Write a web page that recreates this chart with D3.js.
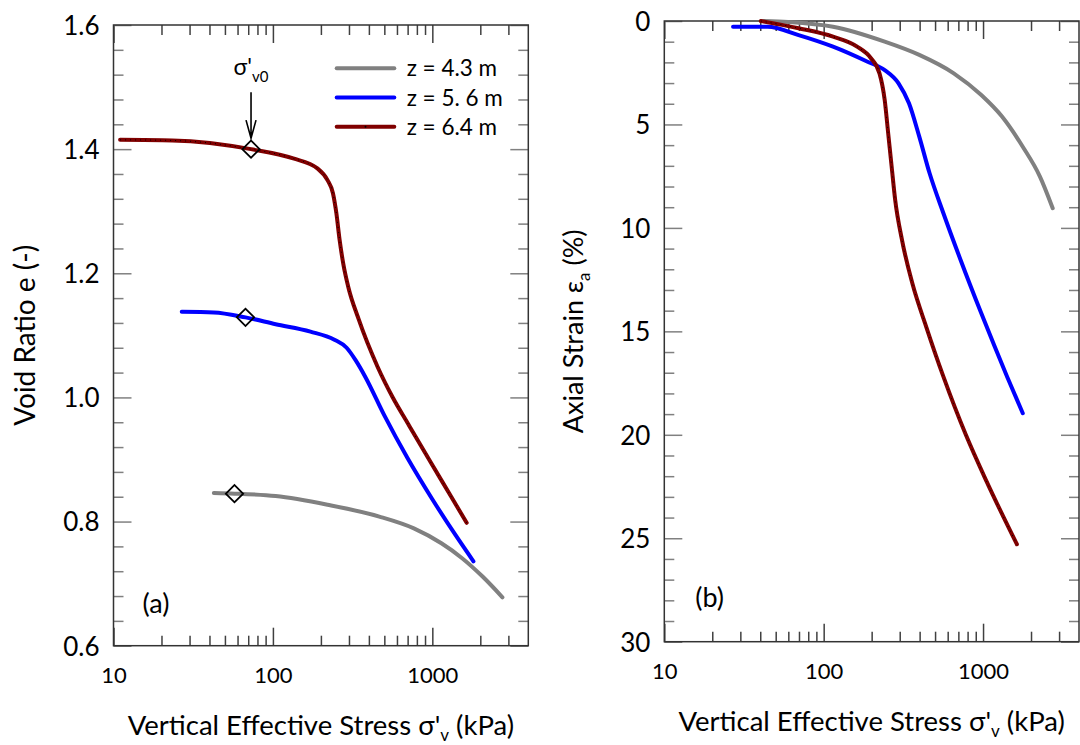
<!DOCTYPE html>
<html lang="en">
<head>
<meta charset="utf-8" />
<title>Void ratio and axial strain vs vertical effective stress</title>
<style>
    body {
        margin: 0;
        background-color: #fff;
    }
    svg text {
        font-family: Lato, "Open Sans", sans-serif;
        fill: #000;
    }
</style>
</head>
<body>
<script src="https://d3js.org/d3.v7.min.js"></script>
<script>
    // series labels and colours
    var depthLabels = ["z = 4.3 m", "z = 5. 6 m", "z = 6.4 m"];
    var colors = ["#808080", "#0000ff", "#800000"];

    // (a) void ratio e vs vertical effective stress (kPa)
    var stressA43 = [42.6, 57.4, 104, 220, 465, 766, 1140, 1538, 2074, 2753];
    var voidA43 = [0.846, 0.845, 0.841, 0.827, 0.808, 0.789, 0.765, 0.741, 0.711, 0.678];
    var stressA56 = [26.8, 42.6, 67.3, 104, 172, 243, 290, 330, 380, 500, 700, 1000, 1400, 1811];
    var voidA56 = [1.138, 1.137, 1.129, 1.118, 1.106, 1.093, 1.080, 1.060, 1.033, 0.971, 0.902, 0.836, 0.778, 0.736];
    var stressA64 = [11, 23.4, 72.9, 134, 190, 220, 238, 250, 262, 276, 297, 345, 454, 567, 710, 1000, 1300, 1642];
    var voidA64 = [1.415, 1.414, 1.400, 1.385, 1.369, 1.350, 1.329, 1.297, 1.254, 1.216, 1.178, 1.126, 1.049, 0.999, 0.956, 0.891, 0.842, 0.798];

    // in-situ stress sigma'v0 markers
    var stressV0 = [57.4, 67.3, 72.9];
    var voidV0 = [0.845, 1.129, 1.400];

    // (b) axial strain (%) vs vertical effective stress (kPa)
    var stressB43 = [42, 60, 114.5, 241.5, 398, 655, 975, 1315, 1775, 2275, 2736];
    var strainB43 = [0, 0.05, 0.28, 1.0, 1.64, 2.53, 3.58, 4.62, 6.08, 7.52, 9.05];
    var stressB56 = [27, 44.5, 69.6, 114.5, 188.6, 241.5, 295, 343, 398, 462, 564, 723, 975, 1416, 1775];
    var strainB56 = [0.28, 0.28, 0.68, 1.24, 1.97, 2.37, 3.01, 3.98, 5.59, 7.36, 9.29, 11.55, 14.13, 17.19, 18.96];
    var stressB64 = [40.3, 69.6, 114.5, 162, 198, 224, 241.5, 254, 267, 281, 310, 360, 440, 564, 780, 1052, 1630];
    var strainB64 = [0, 0.35, 0.76, 1.24, 1.8, 2.53, 3.82, 5.43, 7.04, 8.65, 10.58, 12.68, 14.78, 17.19, 20.0, 22.25, 25.29];

    // tick values
    var xMajor = [10, 100, 1000];
    var xMinor = [20, 30, 40, 50, 60, 70, 80, 90, 200, 300, 400, 500, 600, 700, 800, 900, 2000, 3000];
    var eMajor = [0.6, 0.8, 1.0, 1.2, 1.4, 1.6];
    var eMinor = d3.range(0.64, 1.6, 0.04).filter(function (v) { return Math.abs(v * 5 - Math.round(v * 5)) > 0.01; });
    var strainMajor = [0, 5, 10, 15, 20, 25, 30];
    var strainMinor = d3.range(1, 30).filter(function (v) { return v % 5 != 0; });

    var zip = function (xs, ys) { return xs.map(function (v, i) { return [v, ys[i]]; }); };

    var svg = d3.select("body").append("svg")
        .attr("width", 1080)
        .attr("height", 745);

    var majorLen = 18, minorLen = 10;

    function drawPanel(box, y, yMajorVals, yMinorVals, yFmt) {
        var w = box.right - box.left, h = box.bottom - box.top;
        var x = d3.scaleLog().domain([10, 4000]).range([0, w]);
        var g = svg.append("g").attr("transform", "translate(" + box.left + "," + box.top + ")");

        function tidy(sel, color) {
            sel.select(".domain").remove();
            sel.selectAll("line").attr("stroke", color).attr("stroke-width", 1.5);
        }

        // bottom axis with labels
        g.append("g").attr("transform", "translate(0," + h + ")")
            .call(d3.axisBottom(x).tickValues(xMajor).tickSize(-majorLen).tickSizeOuter(0).tickFormat(d3.format("d")))
            .call(function (s) { tidy(s, "#404040"); })
            .selectAll("text").attr("y", 37).attr("dy", null).style("font-size", "22px");
        g.append("g").attr("transform", "translate(0," + h + ")")
            .call(d3.axisBottom(x).tickValues(xMinor).tickSize(-minorLen).tickSizeOuter(0).tickFormat(""))
            .call(function (s) { tidy(s, "#404040"); });
        // top mirror
        g.append("g")
            .call(d3.axisTop(x).tickValues(xMajor).tickSize(-majorLen).tickSizeOuter(0).tickFormat(""))
            .call(function (s) { tidy(s, "#404040"); });
        g.append("g")
            .call(d3.axisTop(x).tickValues(xMinor).tickSize(-minorLen).tickSizeOuter(0).tickFormat(""))
            .call(function (s) { tidy(s, "#404040"); });
        // left axis with labels
        g.append("g")
            .call(d3.axisLeft(y).tickValues(yMajorVals).tickSize(-majorLen).tickSizeOuter(0).tickFormat(yFmt))
            .call(function (s) { tidy(s, "#808080"); })
            .selectAll("text").attr("x", -14).attr("dy", "0.36em").style("font-size", "26px");
        g.append("g")
            .call(d3.axisLeft(y).tickValues(yMinorVals).tickSize(-minorLen).tickSizeOuter(0).tickFormat(""))
            .call(function (s) { tidy(s, "#808080"); });
        // right mirror
        g.append("g").attr("transform", "translate(" + w + ",0)")
            .call(d3.axisRight(y).tickValues(yMajorVals).tickSize(-majorLen).tickSizeOuter(0).tickFormat(""))
            .call(function (s) { tidy(s, "#808080"); });
        g.append("g").attr("transform", "translate(" + w + ",0)")
            .call(d3.axisRight(y).tickValues(yMinorVals).tickSize(-minorLen).tickSizeOuter(0).tickFormat(""))
            .call(function (s) { tidy(s, "#808080"); });

        g.append("rect")
            .attr("width", w).attr("height", h)
            .attr("fill", "none").attr("stroke", "#333").attr("stroke-width", 1.5);

        // x axis title
        var t = g.append("text")
            .attr("text-anchor", "middle")
            .attr("x", w / 2).attr("y", h + 89)
            .style("font-size", "27.5px");
        t.append("tspan").text("Vertical Effective Stress \u03c3'");
        t.append("tspan").attr("dy", 6).style("font-size", "17px").text("v");
        t.append("tspan").attr("dy", -6).text(" (kPa)");

        return { g: g, x: x, y: y, w: w, h: h };
    }

    function drawSeries(p, data, color, dotted) {
        var line = d3.line()
            .x(function (d) { return p.x(d[0]); })
            .y(function (d) { return p.y(d[1]); })
            .curve(d3.curveMonotoneX);
        p.g.append("path").datum(data)
            .attr("d", line)
            .attr("fill", "none")
            .attr("stroke", color)
            .attr("stroke-width", 4)
            .attr("stroke-linecap", "round");
        if (dotted) {
            p.g.append("path").datum(data)
                .attr("d", line)
                .attr("fill", "none")
                .attr("stroke", "#000")
                .attr("stroke-width", 1)
                .attr("stroke-dasharray", "1,4");
        }
    }

    // ---- panel (a)
    var boxA = { left: 113.5, top: 25, right: 528.3, bottom: 645.7 };
    var yA = d3.scaleLinear().domain([0.6, 1.6]).range([boxA.bottom - boxA.top, 0]);
    var pA = drawPanel(boxA, yA, eMajor, eMinor, d3.format(".1f"));

    drawSeries(pA, zip(stressA43, voidA43), colors[0], false);
    drawSeries(pA, zip(stressA56, voidA56), colors[1], false);
    drawSeries(pA, zip(stressA64, voidA64), colors[2], true);

    pA.g.selectAll(".v0")
        .data(zip(stressV0, voidV0))
        .enter().append("path")
        .attr("class", "v0")
        .attr("d", d3.symbol().type(d3.symbolSquare).size(150))
        .attr("transform", function (d) { return "translate(" + pA.x(d[0]) + "," + pA.y(d[1]) + ")rotate(45)"; })
        .attr("fill", "none")
        .attr("stroke", "#000")
        .attr("stroke-width", 1.8);

    // sigma'v0 arrow on the top curve
    var ax = pA.x(stressV0[2]), ay = pA.y(voidV0[2]);
    pA.g.append("path")
        .attr("d", "M" + ax + "," + (ay - 57) + "V" + (ay - 11) +
            "M" + (ax - 5) + "," + (ay - 29) + "L" + ax + "," + (ay - 11) + "L" + (ax + 5) + "," + (ay - 29))
        .attr("fill", "none").attr("stroke", "#000").attr("stroke-width", 1.6);
    var lab = pA.g.append("text")
        .attr("text-anchor", "middle")
        .attr("x", ax).attr("y", ay - 74)
        .style("font-size", "23px");
    lab.append("tspan").text("\u03c3'");
    lab.append("tspan").attr("dy", 7).style("font-size", "15px").text("v0");

    // legend
    var legX = 336.7 - boxA.left, legY = [68.3, 97.5, 126.7];
    depthLabels.forEach(function (name, i) {
        var yy = legY[i] - boxA.top;
        pA.g.append("line")
            .attr("x1", legX).attr("x2", legX + 57.6)
            .attr("y1", yy).attr("y2", yy)
            .attr("stroke", colors[i]).attr("stroke-width", 4).attr("stroke-linecap", "round");
        pA.g.append("text")
            .attr("x", 406.7 - boxA.left).attr("y", yy + 8)
            .style("font-size", "22.5px")
            .text(name);
    });
    pA.g.append("circle").attr("cx", legX + 28.8).attr("cy", legY[2] - boxA.top).attr("r", 1).attr("fill", "#000");

    pA.g.append("text").attr("x", 29).attr("y", pA.h - 33).style("font-size", "27px").text("(a)");

    svg.append("text")
        .attr("text-anchor", "middle")
        .attr("transform", "translate(35," + ((boxA.top + boxA.bottom) / 2) + ")rotate(-90)")
        .style("font-size", "28px")
        .text("Void Ratio e (-)");

    // ---- panel (b)
    var boxB = { left: 664.3, top: 21, right: 1079, bottom: 641.7 };
    var yB = d3.scaleLinear().domain([0, 30]).range([0, boxB.bottom - boxB.top]);
    var pB = drawPanel(boxB, yB, strainMajor, strainMinor, d3.format("d"));

    drawSeries(pB, zip(stressB43, strainB43), colors[0], false);
    drawSeries(pB, zip(stressB56, strainB56), colors[1], false);
    drawSeries(pB, zip(stressB64, strainB64), colors[2], true);

    pB.g.append("text").attr("x", 31).attr("y", pB.h - 35).style("font-size", "27px").text("(b)");

    var yt = svg.append("text")
        .attr("text-anchor", "middle")
        .attr("transform", "translate(583," + ((boxB.top + boxB.bottom) / 2) + ")rotate(-90)")
        .style("font-size", "27px");
    yt.append("tspan").text("Axial Strain \u03b5");
    yt.append("tspan").attr("dy", 7).style("font-size", "17px").text("a");
    yt.append("tspan").attr("dy", -7).text("  (%)");
</script>
</body>
</html>
